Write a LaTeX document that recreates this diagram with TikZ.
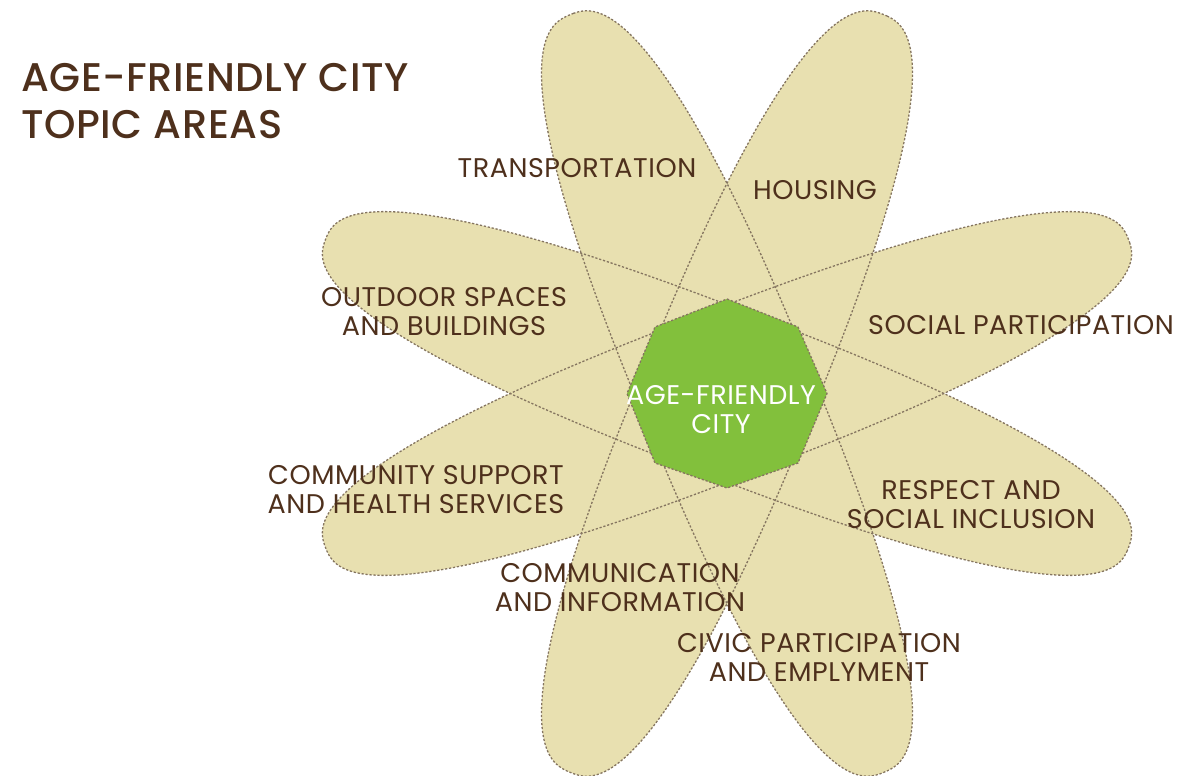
\documentclass[tikz,border=0pt]{standalone}
\usepackage{fontspec}
\setmainfont{Poppins}
\newfontfamily\lblfont{Poppins}[LetterSpace=2]
\newfontfamily\titlefont{Poppins Medium}[LetterSpace=1.5]
\definecolor{petal}{HTML}{E8E0B0}
\definecolor{petalline}{HTML}{857560}
\definecolor{cgreen}{HTML}{82C03C}
\definecolor{ink}{HTML}{4E301C}
\tikzset{
  petaldash/.style={draw=petalline, line width=1.3pt, dash pattern=on 2.2pt off 1.8pt},
  lbl/.style={anchor=north, inner sep=0pt, align=center, text=ink, font=\lblfont\fontsize{27}{29}\selectfont},
}
% superellipse petal: #1 semi-major, #2 semi-minor (exponent 2/n = 0.8)
\newcommand\petalpath[2]{plot[domain=1:361, samples=181, variable=\q]
  ({#1*sign(cos(\q))*abs(cos(\q))^0.8}, {#2*sign(sin(\q))*abs(sin(\q))^0.8}) -- cycle}
\begin{document}
\begin{tikzpicture}[x=1pt,y=-1pt]
\useasboundingbox (0,0) rectangle (1179,776);
\coordinate (c) at (727,393.5);
% petal fills
\foreach \ang/\ra/\rb in {-21/430/83, 21/430/83, 112.5/410/86, 67.5/410/86}{
  \fill[petal, shift={(c)}, rotate=\ang] \petalpath{\ra}{\rb};
}
% petal outlines
\foreach \ang/\ra/\rb in {-21/430/83, 21/430/83, 112.5/410/86, 67.5/410/86}{
  \draw[petaldash, shift={(c)}, rotate=\ang] \petalpath{\ra}{\rb};
}
% center octagon
\fill[cgreen] (727,299) -- (798,327) -- (827,393.5) -- (798,463) -- (727,488) -- (655,463) -- (627,393.5) -- (655,327) -- cycle;
\draw[petaldash] (727,299) -- (798,327) -- (827,393.5) -- (798,463) -- (727,488) -- (655,463) -- (627,393.5) -- (655,327) -- cycle;
% texts
\node[anchor=north west, inner sep=0pt, align=left, text=ink, font=\titlefont\fontsize{40}{47}\selectfont] (title) at (21,63) {AGE-FRIENDLY CITY\\TOPIC AREAS};
\node[lbl, text=white] (center) at (721,385) {AGE-FRIENDLY\\CITY};
\node[lbl] (transport) at (577,158) {TRANSPORTATION};
\node[lbl] (housing) at (815,180) {HOUSING};
\node[lbl] (outdoor) at (444,287) {OUTDOOR SPACES\\AND BUILDINGS};
\node[lbl] (social) at (1021,315) {SOCIAL PARTICIPATION};
\node[lbl] (community) at (416,465) {COMMUNITY SUPPORT\\AND HEALTH SERVICES};
\node[lbl] (respect) at (971,480) {RESPECT AND\\SOCIAL INCLUSION};
\node[lbl] (communication) at (620,563) {COMMUNICATION\\AND INFORMATION};
\node[lbl] (civic) at (819,633) {CIVIC PARTICIPATION\\AND EMPLYMENT};
\end{tikzpicture}
\end{document}
